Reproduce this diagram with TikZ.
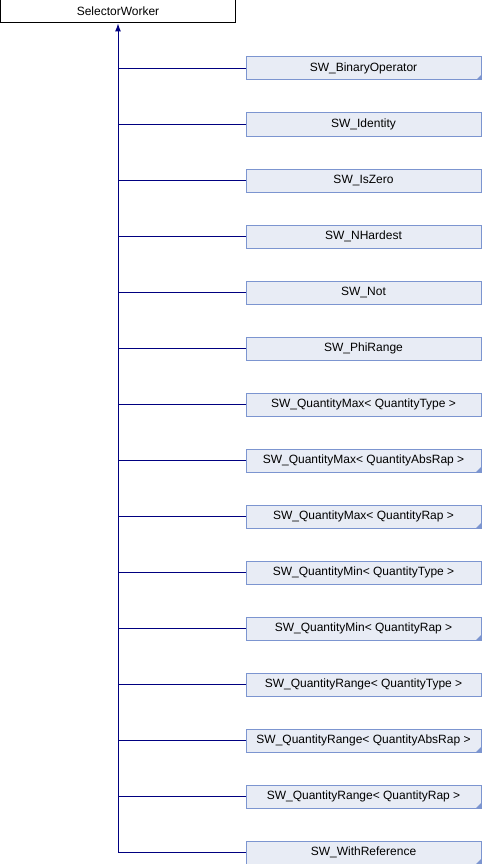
\documentclass[tikz,border=0pt]{standalone}
\usepackage{fontspec}
\setmainfont{Liberation Sans}
\usetikzlibrary{arrows.meta}
\definecolor{boxfill}{HTML}{E8ECF5}
\definecolor{boxdraw}{HTML}{7C95D0}
\definecolor{edge}{HTML}{000080}
\begin{document}
\begin{tikzpicture}[x=1pt,y=1pt,
  basebox/.style={draw=black,fill=white,line width=1pt,minimum width=235pt,minimum height=23pt,inner sep=0pt,font=\fontsize{12}{12}\selectfont},
  childbox/.style={draw=boxdraw,fill=boxfill,line width=1pt,minimum width=235pt,minimum height=23pt,inner sep=0pt,font=\fontsize{12}{12}\selectfont},
  link/.style={draw=edge,line width=1pt},
  corner/.style={fill=boxdraw,draw=none}]
\useasboundingbox (0,0) rectangle (482,-864);
\node[basebox] (base) at (118,-11.5) {SelectorWorker};
\foreach \i/\t/\c in {0/SW\_BinaryOperator/1,1/SW\_Identity/0,2/SW\_IsZero/0,3/SW\_NHardest/0,4/SW\_Not/0,5/SW\_PhiRange/0,
  6/{SW\_QuantityMax< QuantityType >}/0,7/{SW\_QuantityMax< QuantityAbsRap >}/1,8/{SW\_QuantityMax< QuantityRap >}/1,
  9/{SW\_QuantityMin< QuantityType >}/0,10/{SW\_QuantityMin< QuantityRap >}/1,11/{SW\_QuantityRange< QuantityType >}/0,
  12/{SW\_QuantityRange< QuantityAbsRap >}/1,13/{SW\_QuantityRange< QuantityRap >}/1,14/SW\_WithReference/1}{
  \node[childbox] (c\i) at (363.5,-68.5-56*\i) {\t};
  \ifnum\c=1
    \fill[corner] ([xshift=-5.5pt,yshift=0.5pt]c\i.south east) -- ([xshift=-0.5pt,yshift=5.5pt]c\i.south east) -- ([xshift=-0.5pt,yshift=0.5pt]c\i.south east) -- cycle;
  \fi
  \draw[link] (c\i.west) -- (c\i.west -| base.south);
}
\coordinate (bend) at (c14.west -| base.south);
\draw[link,-{Latex[length=8pt,width=6pt]}] (bend) -- (base.south);
\end{tikzpicture}
\end{document}
